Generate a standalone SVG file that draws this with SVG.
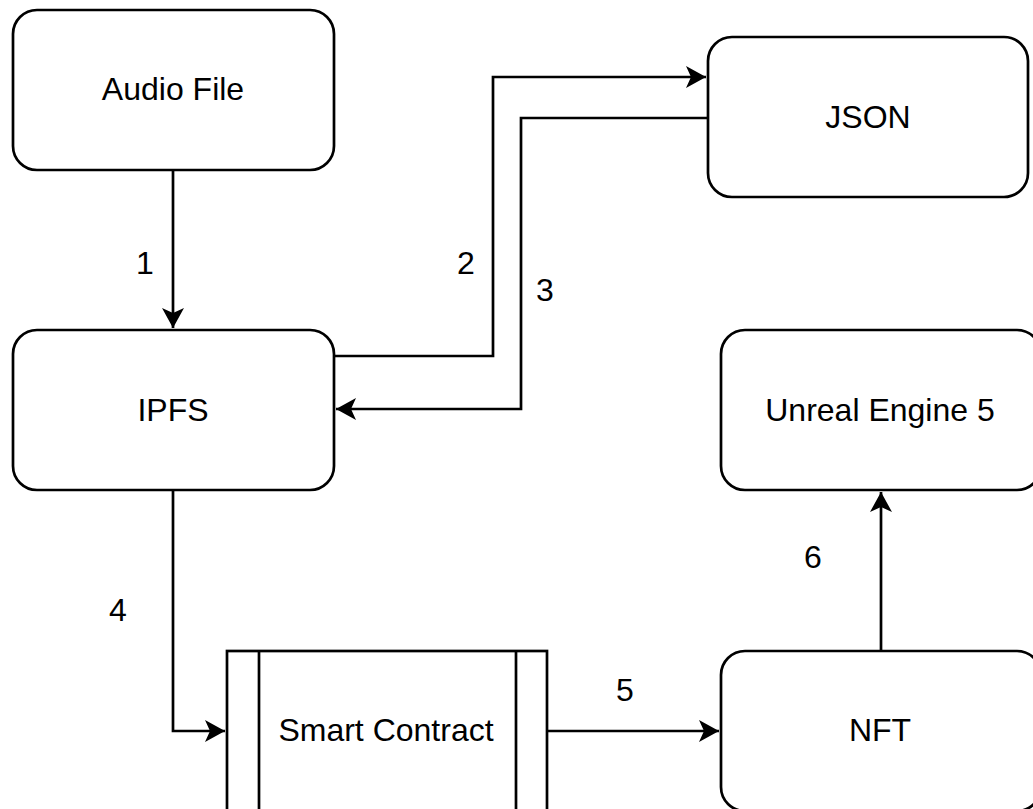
<svg xmlns="http://www.w3.org/2000/svg" width="1033" height="809" viewBox="0 0 1033 809">
<style>
.box{fill:#fff;stroke:#000;stroke-width:2.7}
.t{font-family:"Liberation Sans",Arial,sans-serif;font-size:32px;fill:#000;text-anchor:middle}
.c{fill:none;stroke:#000;stroke-width:2.7}
</style>
<defs>
<marker id="arr" markerUnits="userSpaceOnUse" viewBox="0 0 20 22" refX="20" refY="11" markerWidth="20" markerHeight="22" orient="auto">
<path d="M0,0 L20,11 L0,22 L5,11 Z" fill="#000"/>
</marker>
</defs>
<rect width="1033" height="809" fill="#fff"/>
<g id="connectors">
<path class="c" d="M173,170 L173,328" marker-end="url(#arr)"/>
<path class="c" d="M334,356 L493,356 L493,77 L706,77" marker-end="url(#arr)"/>
<path class="c" d="M708,118 L521,118 L521,409 L336,409" marker-end="url(#arr)"/>
<path class="c" d="M173,490 L173,731 L225,731" marker-end="url(#arr)"/>
<path class="c" d="M547,731 L719,731" marker-end="url(#arr)"/>
<path class="c" d="M881,651 L881,492" marker-end="url(#arr)"/>
<text class="t" x="145" y="274">1</text>
<text class="t" x="466" y="274">2</text>
<text class="t" x="545" y="301">3</text>
<text class="t" x="118" y="621">4</text>
<text class="t" x="625" y="701">5</text>
<text class="t" x="813" y="568">6</text>
</g>
<g id="audio">
<rect class="box" x="13" y="10" width="321" height="160" rx="24"/>
<text class="t" x="173" y="100">Audio File</text>
</g>
<g id="json">
<rect class="box" x="708" y="37" width="320" height="160" rx="24"/>
<text class="t" x="868" y="128">JSON</text>
</g>
<g id="ipfs">
<rect class="box" x="13" y="330" width="321" height="160" rx="24"/>
<text class="t" x="173" y="421">IPFS</text>
</g>
<g id="unreal">
<rect class="box" x="721" y="330" width="320" height="160" rx="24"/>
<text class="t" x="880" y="421">Unreal Engine 5</text>
</g>
<g id="contract">
<rect class="box" x="227" y="651" width="320" height="160"/>
<line class="c" x1="259" y1="651" x2="259" y2="811"/>
<line class="c" x1="516" y1="651" x2="516" y2="811"/>
<text class="t" x="386" y="741">Smart Contract</text>
</g>
<g id="nft">
<rect class="box" x="721" y="651" width="320" height="160" rx="24"/>
<text class="t" x="880" y="741">NFT</text>
</g>
</svg>
